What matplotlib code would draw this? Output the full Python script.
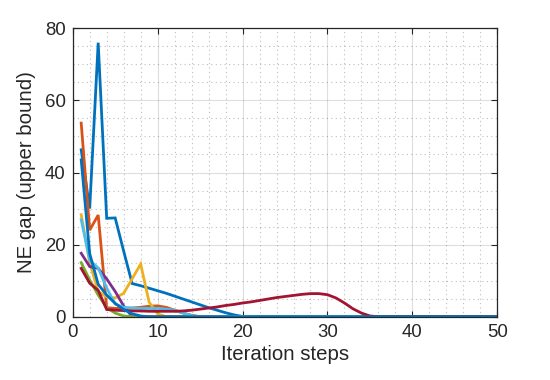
import numpy as np
import matplotlib
matplotlib.use('Agg')
import matplotlib.pyplot as plt
from matplotlib.ticker import MultipleLocator

plt.rcParams['font.family'] = ['Liberation Sans', 'DejaVu Sans']

# MATLAB default colour order
colors = ['#0072BD', '#D95319', '#EDB120', '#7E2F8E', '#77AC30', '#4DBEEE', '#A2142F', '#0072BD']

n_iter = 50
iters = np.arange(1, n_iter + 1)

# leading values of each run, the rest is zero up to 50 iterations
blue_a = [46.3, 30.0, 76.0, 27.3, 27.4, 18.2, 9.2, 8.6, 7.9, 7.2, 6.5, 5.7, 4.9, 4.1, 3.3,
          2.5, 1.8, 1.1, 0.5, 0.05]
orange = [53.7, 24.0, 28.2, 2.5, 2.3, 2.3, 2.4, 2.6, 2.9, 3.0, 2.6, 1.8, 1.0, 0.4]
yellow = [28.3, 15.0, 7.0, 5.5, 5.2, 6.5, 10.5, 14.6, 4.0, 0.8]
purple = [17.6, 13.9, 13.4, 10.5, 7.0, 3.0]
green = [15.0, 10.2, 6.0, 2.5, 1.0, 0.2]
lightblue = [26.9, 15.7, 13.5, 8.0, 3.5, 2.6, 2.4, 2.3, 2.3, 2.3, 2.1, 1.8, 1.0, 0.3]
darkred = [13.4, 9.3, 7.3, 2.0, 1.8, 1.7, 1.6, 1.6, 1.5, 1.5, 1.5, 1.5, 1.6, 1.8, 2.1,
           2.4, 2.7, 3.1, 3.4, 3.8, 4.1, 4.5, 4.9, 5.3, 5.6, 5.9, 6.2, 6.4, 6.4, 6.1,
           5.2, 3.8, 2.2, 1.0, 0.2]
blue_b = [43.5, 17.5, 9.0, 6.0, 3.7, 2.0, 0.8, 0.2]

runs = [blue_a, orange, yellow, purple, green, lightblue, darkred, blue_b]


def pad(vals):
    return list(vals) + [0.0] * (n_iter - len(vals))


fig = plt.figure(figsize=(5.5, 3.8), dpi=100)
ax = fig.add_axes([0.1322, 0.1666, 0.772, 0.7589])

for vals, c in zip(runs, colors):
    ax.plot(iters, pad(vals), color=c, lw=2.0, solid_joinstyle='miter')

ax.set_xlim(0, 50)
ax.set_ylim(0, 80)
ax.xaxis.set_major_locator(MultipleLocator(10))
ax.xaxis.set_minor_locator(MultipleLocator(2))
ax.yaxis.set_major_locator(MultipleLocator(20))
ax.yaxis.set_minor_locator(MultipleLocator(5))

ax.grid(which='major', color='#262626', alpha=0.15, lw=0.8)
ax.grid(which='minor', color='#262626', alpha=0.3, lw=0.8, ls=(0, (1, 3)))
ax.set_axisbelow(True)

ax.tick_params(which='major', direction='in', length=4, width=0.8, top=True, right=True,
               labelsize=13.4, colors='#262626', pad=5)
ax.tick_params(which='minor', length=0, top=True, right=True)
for s in ax.spines.values():
    s.set_color('#262626')
    s.set_linewidth(0.9)

ax.set_xlabel('Iteration steps', fontsize=14.7, color='#262626', labelpad=3)
ax.set_ylabel('NE gap (upper bound)', fontsize=14.7, color='#262626', labelpad=6)

fig.savefig('out.png', dpi=100)
